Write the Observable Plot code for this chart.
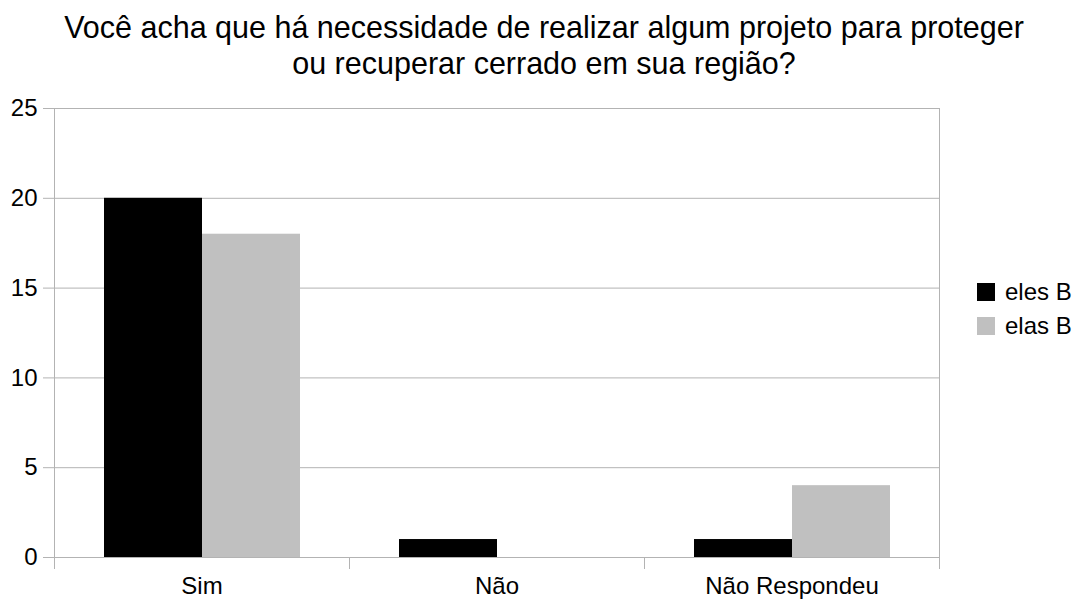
<!DOCTYPE html>
<html><head><meta charset="utf-8">
<script src="https://cdn.jsdelivr.net/npm/d3@7"></script>
<script src="https://cdn.jsdelivr.net/npm/@observablehq/plot@0.6"></script>
<style>
body{margin:0;background:#fff;font-family:"Liberation Sans",Arial,sans-serif;color:#000}
#wrap{position:relative;width:1077px;height:601px;overflow:hidden;background:#fff}
#title{height:98px;box-sizing:border-box;padding-top:8.5px;padding-left:11px;text-align:center;font-size:30.5px;line-height:36px;white-space:nowrap}
#legend{position:absolute;left:977px;top:275px;font-size:24px;}
#legend .row{height:34px;line-height:34px;white-space:nowrap;display:flex;align-items:center}
#legend .sw{display:inline-block;width:18px;height:18px;margin-right:10px}
#chart svg{display:block}
</style>
</head><body>
<div id="wrap">
  <div id="title"></div>
  <div id="chart"></div>
  <div id="legend"></div>
</div>
<script>
const titleLines = ["Você acha que há necessidade de realizar algum projeto para proteger", "ou recuperar cerrado em sua região?"];
const categories = ["Sim", "Não", "Não Respondeu"];
const series = ["eles B", "elas B"];
const elesB = [20, 1, 1];
const elasB = [18, 0, 4];
const colors = ["#000000", "#c0c0c0"];
const yTicks = [0, 5, 10, 15, 20, 25];

const values = {"eles B": elesB, "elas B": elasB};
const data = categories.flatMap((c, i) => series.map(s => ({category: c, series: s, value: values[s][i]})));

document.getElementById("title").innerHTML = titleLines.join("<br>");

const W = 1077, H = 503, mT = 10, mB = 44, mL = 53, mR = 137;
const innerH = H - mT - mB;
const grid = "#b3b3b3";

const plot = Plot.plot({
  width: W, height: H,
  marginTop: mT, marginBottom: mB, marginLeft: mL, marginRight: mR,
  style: {fontFamily: "Liberation Sans, Arial, sans-serif", fontSize: "24px", color: "#000", background: "#fff", overflow: "visible"},
  fx: {domain: categories, padding: 0, label: null},
  x: {domain: series, paddingInner: 0, paddingOuter: 0.5, axis: null},
  y: {domain: [0, 25], label: null},
  color: {domain: series, range: colors},
  marks: [
    Plot.gridY(yTicks, {stroke: grid, strokeOpacity: 1}),
    Plot.frame({anchor: "left", facetAnchor: "left", insetBottom: -11, stroke: grid, strokeOpacity: 1}),
    Plot.frame({anchor: "right", facetAnchor: "right", insetBottom: -11, stroke: grid, strokeOpacity: 1}),
    Plot.frame({anchor: "left", insetTop: innerH, insetBottom: -11, stroke: grid, strokeOpacity: 1}),
    Plot.barY(data, {fx: "category", x: "series", y: "value", fill: "series"}),
    Plot.axisY(yTicks, {tickSize: 11, tickPadding: 6, stroke: grid, fill: "#000", fontSize: 24, label: null}),
    Plot.axisFx({anchor: "bottom", tickSize: 0, tickPadding: 19, label: null, fontSize: 24, fill: "#000"})
  ]
});
document.getElementById("chart").appendChild(plot);

const legend = document.getElementById("legend");
series.forEach((s, i) => {
  const row = document.createElement("div");
  row.className = "row";
  const sw = document.createElement("span");
  sw.className = "sw";
  sw.style.background = colors[i];
  row.appendChild(sw);
  row.appendChild(document.createTextNode(s));
  legend.appendChild(row);
});
</script>
</body></html>
